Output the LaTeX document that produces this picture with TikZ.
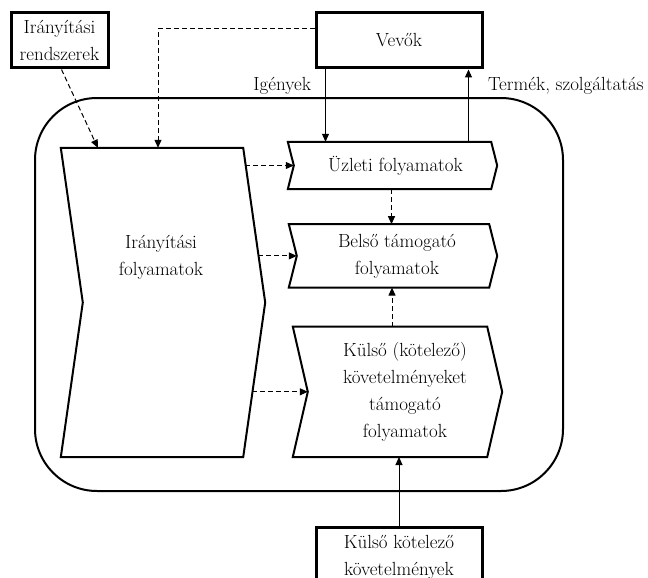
\documentclass[tikz,border=0pt]{standalone}
\usepackage{fontspec}
\usetikzlibrary{arrows.meta, positioning, calc}
\tikzset{every node/.style={font=\fontsize{19}{27}\selectfont, align=center}}
\newcommand{\folyamat}[2]{\draw[procline] ($(#1.north west)+(-#2,0)$) -- ($(#1.north east)+(-#2,0)$) -- (#1.east) -- ($(#1.south east)+(-#2,0)$) -- ($(#1.south west)+(-#2,0)$) -- (#1.west) -- cycle;}

\begin{document}
\begin{tikzpicture}[x=1pt, y=-1pt, >={Triangle[length=8pt,width=7pt]},
  doboz/.style={draw, line width=3pt, inner sep=0pt},
  proc/.style={inner sep=0pt},
  procline/.style={line width=2pt, line join=miter},
  arr/.style={->, line width=1pt},
  dasharr/.style={->, line width=1pt, dash pattern=on 5pt off 3pt},
  lbl/.style={inner sep=0pt}]
\useasboundingbox (0,0) rectangle (648,578);
\clip (0,0) rectangle (648,578);
\draw[line width=2pt, rounded corners=62pt] (35,98) rectangle (563,491);
\node[doboz, minimum width=166pt, minimum height=55pt] (vevok) at (399,40.5) {Vevők};
\node[doboz, minimum width=97pt, minimum height=55pt] (iranyr) at (59.5,40.5) {Irányítási\\rendszerek};
\node[proc, minimum width=203pt, minimum height=47pt] (uzleti) at (395.5,165.5) {Üzleti folyamatok};
\node[proc, minimum width=200pt, minimum height=63pt, below=35pt of uzleti, xshift=1.5pt] (belso) {Belső támogató\\folyamatok};
\node[proc, minimum width=194pt, minimum height=130pt, below=39pt of belso, xshift=8pt] (kulso) {Külső (kötelező)\\követelményeket\\támogató\\folyamatok};
\node[proc, minimum width=182pt, minimum height=309pt] (iranyf) at (174,302.5) {};
\node (iranyft) at (161,257) {Irányítási\\folyamatok};
\node[doboz, minimum width=166pt, minimum height=60pt, below=69pt of kulso, xshift=-6pt] (kkov) {Külső kötelező\\követelmények};
\folyamat{uzleti}{6}
\folyamat{belso}{8}
\folyamat{kulso}{15}
\folyamat{iranyf}{22}
\draw[arr] ([xshift=11pt]vevok.south west) -- ([xshift=11pt]vevok.south west |- uzleti.north) node[lbl, pos=0.23, left=14pt] {Igények};
\draw[arr] ([xshift=-15pt]vevok.south east |- uzleti.north) -- ([xshift=-15pt]vevok.south east) node[lbl, pos=0.77, right=19pt] {Termék, szolgáltatás};
\draw[dasharr] ([yshift=12pt]vevok.west) -| ([xshift=-16pt]iranyf.north);
\draw[dasharr] ([xshift=2pt]iranyr.south) -- ([xshift=15pt]iranyf.north west);
\draw[dasharr] ($(uzleti.west)+(-49,0)$) -- (uzleti.west);
\draw[dasharr] ($(belso.west)+(-39,0)$) -- (belso.west);
\draw[dasharr] ($(kulso.west)+(-56,0)$) -- (kulso.west);
\draw[dasharr] ([xshift=-4pt]uzleti.south) -- ([xshift=-4pt]uzleti.south |- belso.north);
\draw[dasharr] ([xshift=-13pt]kulso.north) -- ([xshift=-13pt]kulso.north |- belso.south);
\draw[arr] (kkov.north) -- (kkov.north |- kulso.south);
\end{tikzpicture}
\end{document}
